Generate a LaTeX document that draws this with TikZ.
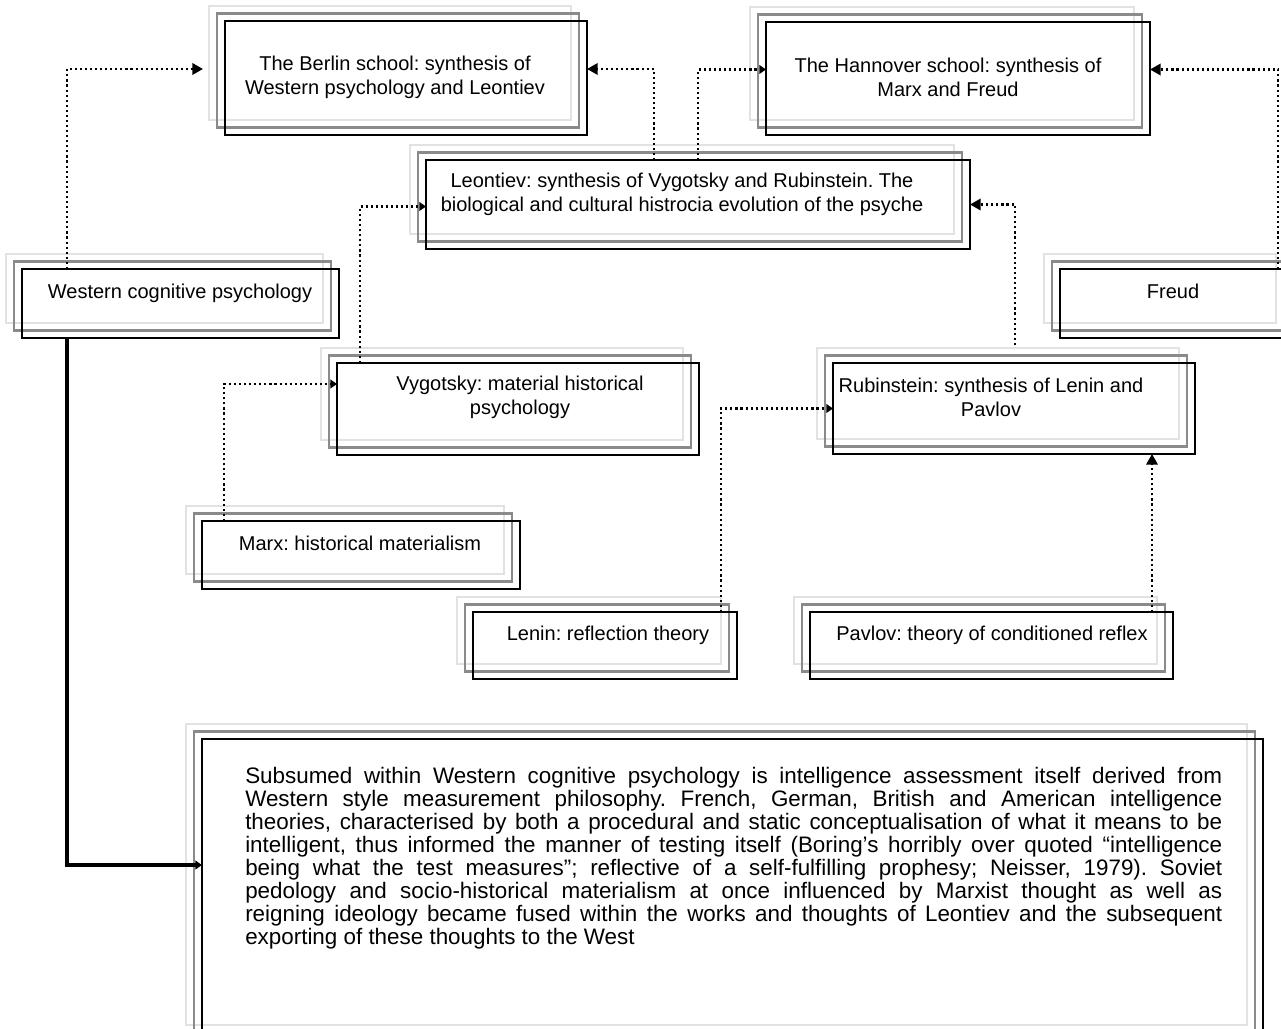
\documentclass[tikz,border=0pt]{standalone}
\usepackage{fontspec}
\setmainfont{Liberation Sans}
\usetikzlibrary{calc,shadows,arrows.meta}
\definecolor{lgray}{HTML}{E2E2E2}
\definecolor{mgray}{HTML}{8A8A8A}
\tikzset{
  boxst/.style={draw=black, line width=1.9pt, inner sep=0pt, outer sep=0pt,
    copy shadow={shadow xshift=-12pt, shadow yshift=11.25pt, draw=lgray, fill=none, line width=1.9pt},
    copy shadow={shadow xshift=-6pt, shadow yshift=5.6pt, draw=mgray, fill=none, line width=1.9pt}},
  txt/.style={font=\fontsize{15pt}{18pt}\selectfont, align=center, inner sep=0pt},
  conn/.style={line width=1.8pt, dash pattern=on 1.6pt off 2.2pt},
  solidconn/.style={line width=2.5pt},
  bigtip/.style={-{Triangle[length=8pt,width=8.5pt]}},
  smalltip/.style={-{Triangle[length=5pt,width=6.5pt]}},
}
\newcommand\mkbox[5]{\node[boxst, minimum width={(#4-#2)*0.75pt}, minimum height={(#5-#3)*0.75pt}] (#1) at ({(#2+#4)/2},{(#3+#5)/2}) {};}
\begin{document}
\frenchspacing
\begin{tikzpicture}[x=0.75pt,y=-0.75pt]
\useasboundingbox (0,0) rectangle (1281,1028);
\fill[white] (0,0) rectangle (1281,1028);
\mkbox{berlin}{225}{21}{587}{135}
\mkbox{hannover}{766}{22}{1150}{135}
\mkbox{leontiev}{426}{160}{970}{249}
\mkbox{western}{22}{269}{339}{338}
\mkbox{freud}{1060}{269}{1292}{338}
\mkbox{vygotsky}{337}{363}{699}{455}
\mkbox{rubinstein}{833}{363}{1195}{454}
\mkbox{marx}{202}{521}{520}{589}
\mkbox{lenin}{473}{612}{737}{679}
\mkbox{pavlov}{810}{612}{1173}{679}
\mkbox{big}{202}{739}{1263}{1040}

\node[txt] (berlinT) at (395,77) {The Berlin school: synthesis of\\Western psychology and Leontiev};
\node[txt] (hannoverT) at (948,77) {The Hannover school: synthesis of\\Marx and Freud};
\node[txt] (leontievT) at (682,194) {Leontiev: synthesis of Vygotsky and Rubinstein. The\\biological and cultural histrocia evolution of the psyche};
\node[txt, anchor=base] (westernT) at (180,298) {Western cognitive psychology};
\node[txt, anchor=base] (freudT) at (1173,298) {Freud};
\node[txt] (vygotskyT) at (520,397) {Vygotsky: material historical\\psychology};
\node[txt] (rubinsteinT) at (991,397) {Rubinstein: synthesis of Lenin and\\Pavlov};
\node[txt, anchor=base] (marxT) at (360,550) {Marx: historical materialism};
\node[txt, anchor=base] (leninT) at (608,640) {Lenin: reflection theory};
\node[txt, anchor=base] (pavlovT) at (992,640) {Pavlov: theory of conditioned reflex};

\node[inner sep=0pt, anchor=base west, text width=732.75pt, align=justify,
      font=\fontsize{16.8pt}{17.25pt}\selectfont] (bigT) at (245,783)
{\frenchspacing\hyphenpenalty=10000\exhyphenpenalty=10000\tolerance=10000
Subsumed within Western cognitive psychology is intelligence assessment itself derived from\linebreak
Western style measurement philosophy. French, German, British and American intelligence\linebreak
theories, characterised by both a procedural and static conceptualisation of what it means to be\linebreak
intelligent, thus informed the manner of testing itself (Boring’s horribly over quoted “intelligence\linebreak
being what the test measures”; reflective of a self-fulfilling prophesy; Neisser, 1979). Soviet\linebreak
pedology and socio-historical materialism at once influenced by Marxist thought as well as\linebreak
reigning ideology became fused within the works and thoughts of Leontiev and the subsequent\linebreak
exporting of these thoughts to the West};

\draw[conn,bigtip] ($(western.north west)+(45,0)$) |- ($(berlin.west)+(-22,-9)$);
\draw[conn,bigtip] ($(leontiev.north west)+(228,0)$) |- ($(berlin.east)+(0,-9)$);
\draw[conn,smalltip] ($(leontiev.north west)+(272,0)$) |- ($(hannover.west)+(0,-9)$);
\draw[conn,bigtip] ($(freud.north west)+(218,0)$) |- ($(hannover.east)+(0,-9)$);
\draw[conn,smalltip] ($(vygotsky.north west)+(23,0)$) |- ($(leontiev.west)+(0,2)$);
\draw[conn,bigtip] ($(rubinstein.north west)+(182,-18)$) |- (leontiev.east);
\draw[conn,smalltip] ($(marx.north west)+(22,0)$) |- ($(vygotsky.west)+(0,-25)$);
\draw[conn,smalltip] ($(lenin.north east)+(-16,0)$) |- (rubinstein.west);
\draw[conn,bigtip] ($(pavlov.north west)+(342,0)$) coordinate (pv) -- (pv |- rubinstein.south);
\draw[solidconn,smalltip] ($(western.south west)+(45,0)$) |- ($(big.west)+(0,-24.5)$);
\end{tikzpicture}
\end{document}
